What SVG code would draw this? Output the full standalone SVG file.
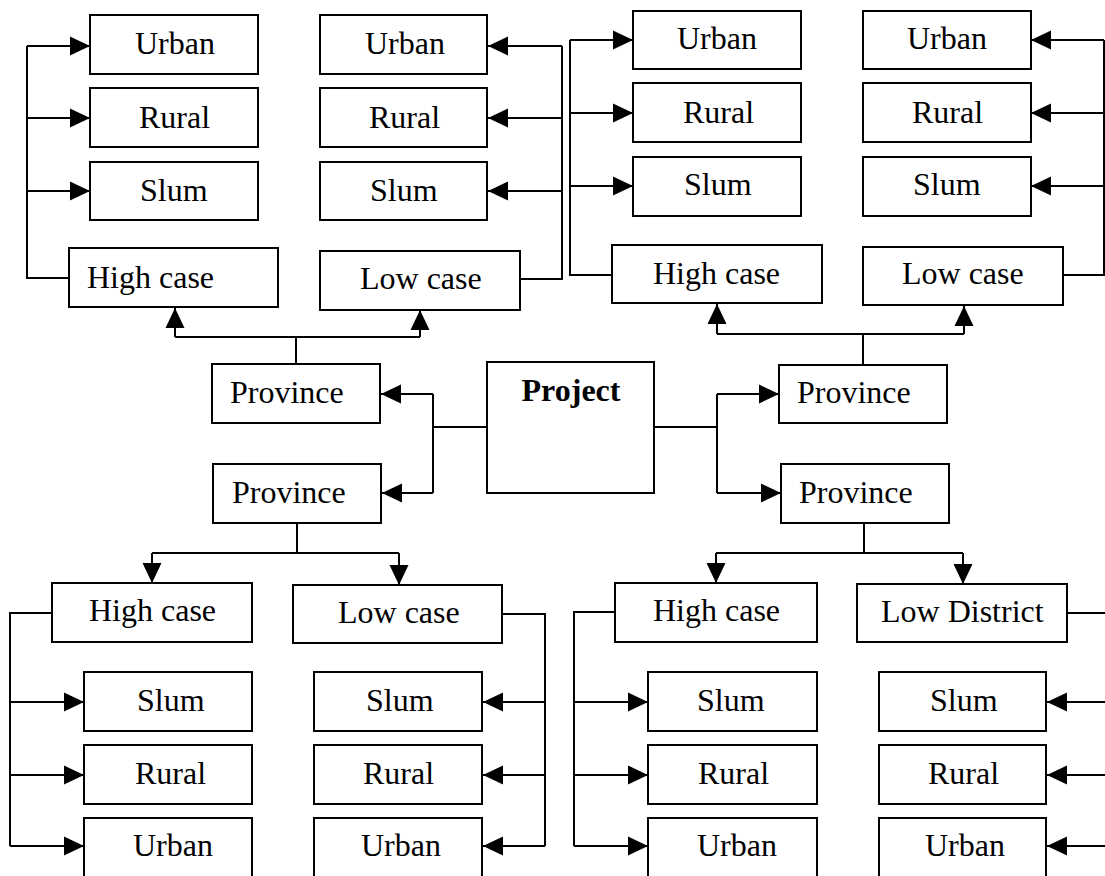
<svg xmlns="http://www.w3.org/2000/svg" width="1105" height="876" viewBox="0 0 1105 876">
<style>
.box{fill:#fff;stroke:#000;stroke-width:2}
.lbl{font-family:"Liberation Serif","Times New Roman",serif;font-size:32px;fill:#000}
.bold{font-weight:bold}
.ln{fill:none;stroke:#000;stroke-width:2}
.arr{fill:none;stroke:#000;stroke-width:2;marker-end:url(#ah)}
</style>
<defs>
<marker id="ah" markerUnits="userSpaceOnUse" markerWidth="20" markerHeight="20" viewBox="0 0 20 20" refX="20" refY="10" orient="auto">
<path d="M0,0.5 L20,10 L0,19.5 z" fill="#000"/>
</marker>
</defs>
<rect width="1105" height="876" fill="#fff"/>
<g id="connectors">
<!-- top-left group -->
<path class="ln" d="M69,278 H27 V46"/>
<path class="arr" d="M27,46 H90"/>
<path class="arr" d="M27,118 H90"/>
<path class="arr" d="M27,191 H90"/>
<!-- top second group -->
<path class="ln" d="M520,279 H562 V46"/>
<path class="arr" d="M562,46 H488"/>
<path class="arr" d="M562,118 H488"/>
<path class="arr" d="M562,191 H488"/>
<!-- top third group -->
<path class="ln" d="M612,275 H570 V40"/>
<path class="arr" d="M570,40 H633"/>
<path class="arr" d="M570,113 H633"/>
<path class="arr" d="M570,186 H633"/>
<!-- top fourth group -->
<path class="ln" d="M1063,275 H1104 V40"/>
<path class="arr" d="M1104,40 H1031"/>
<path class="arr" d="M1104,113 H1031"/>
<path class="arr" d="M1104,186 H1031"/>
<!-- province L1 up -->
<path class="ln" d="M296,364 V337 H175"/>
<path class="arr" d="M175,337 V308"/>
<path class="ln" d="M296,337 H420"/>
<path class="arr" d="M420,337 V310"/>
<!-- province R1 up -->
<path class="ln" d="M863,365 V334 H717"/>
<path class="arr" d="M717,334 V304"/>
<path class="ln" d="M863,334 H964"/>
<path class="arr" d="M964,334 V306"/>
<!-- project to provinces -->
<path class="ln" d="M487,427 H433 V394"/>
<path class="arr" d="M433,394 H381"/>
<path class="ln" d="M433,427 V493"/>
<path class="arr" d="M433,493 H382"/>
<path class="ln" d="M654,427 H717 V394"/>
<path class="arr" d="M717,394 H779"/>
<path class="ln" d="M717,427 V493"/>
<path class="arr" d="M717,493 H781"/>
<!-- province L2 down -->
<path class="ln" d="M297,523 V553 H152"/>
<path class="arr" d="M152,553 V583"/>
<path class="ln" d="M297,553 H399"/>
<path class="arr" d="M399,553 V585"/>
<!-- province R2 down -->
<path class="ln" d="M864,523 V553 H716"/>
<path class="arr" d="M716,553 V583"/>
<path class="ln" d="M864,553 H963"/>
<path class="arr" d="M963,553 V584"/>
<!-- bottom-left group -->
<path class="ln" d="M52,613 H10 V846"/>
<path class="arr" d="M10,702 H84"/>
<path class="arr" d="M10,775 H84"/>
<path class="arr" d="M10,846 H84"/>
<!-- bottom second group -->
<path class="ln" d="M502,614 H545 V846"/>
<path class="arr" d="M545,702 H483"/>
<path class="arr" d="M545,775 H483"/>
<path class="arr" d="M545,846 H483"/>
<!-- bottom third group -->
<path class="ln" d="M615,612 H574 V846"/>
<path class="arr" d="M574,702 H648"/>
<path class="arr" d="M574,775 H648"/>
<path class="arr" d="M574,846 H648"/>
<!-- bottom fourth group -->
<path class="ln" d="M1067,613 H1108 V846"/>
<path class="arr" d="M1108,702 H1047"/>
<path class="arr" d="M1108,775 H1047"/>
<path class="arr" d="M1108,846 H1047"/>
</g>
<!-- top-left -->
<g id="tl-urban"><rect class="box" x="90" y="15" width="168" height="59"/><text class="lbl" x="135" y="54">Urban</text></g>
<g id="tl-rural"><rect class="box" x="90" y="88" width="168" height="59"/><text class="lbl" x="139" y="128">Rural</text></g>
<g id="tl-slum"><rect class="box" x="90" y="162" width="168" height="58"/><text class="lbl" x="140" y="201">Slum</text></g>
<g id="tl-high"><rect class="box" x="69" y="248" width="209" height="59"/><text class="lbl" x="87" y="288">High case</text></g>
<!-- top second -->
<g id="tl2-urban"><rect class="box" x="320" y="15" width="167" height="59"/><text class="lbl" x="365" y="54">Urban</text></g>
<g id="tl2-rural"><rect class="box" x="320" y="88" width="167" height="59"/><text class="lbl" x="369" y="128">Rural</text></g>
<g id="tl2-slum"><rect class="box" x="320" y="162" width="167" height="58"/><text class="lbl" x="370" y="201">Slum</text></g>
<g id="tl2-low"><rect class="box" x="320" y="251" width="200" height="59"/><text class="lbl" x="360" y="289">Low case</text></g>
<!-- top third -->
<g id="tr-urban"><rect class="box" x="633" y="11" width="168" height="58"/><text class="lbl" x="677" y="49">Urban</text></g>
<g id="tr-rural"><rect class="box" x="633" y="83" width="168" height="59"/><text class="lbl" x="683" y="123">Rural</text></g>
<g id="tr-slum"><rect class="box" x="633" y="157" width="168" height="59"/><text class="lbl" x="684" y="195">Slum</text></g>
<g id="tr-high"><rect class="box" x="612" y="245" width="210" height="58"/><text class="lbl" x="653" y="284">High case</text></g>
<!-- top fourth -->
<g id="tr2-urban"><rect class="box" x="863" y="11" width="168" height="58"/><text class="lbl" x="907" y="49">Urban</text></g>
<g id="tr2-rural"><rect class="box" x="863" y="83" width="168" height="59"/><text class="lbl" x="912" y="123">Rural</text></g>
<g id="tr2-slum"><rect class="box" x="863" y="157" width="168" height="59"/><text class="lbl" x="913" y="195">Slum</text></g>
<g id="tr2-low"><rect class="box" x="863" y="247" width="200" height="58"/><text class="lbl" x="902" y="284">Low case</text></g>
<!-- middle -->
<g id="prov-l1"><rect class="box" x="212" y="364" width="168" height="59"/><text class="lbl" x="230" y="403">Province</text></g>
<g id="prov-l2"><rect class="box" x="213" y="464" width="168" height="59"/><text class="lbl" x="232" y="503">Province</text></g>
<g id="project"><rect class="box" x="487" y="362" width="167" height="131"/><text class="lbl bold" x="571" y="401" text-anchor="middle">Project</text></g>
<g id="prov-r1"><rect class="box" x="779" y="365" width="168" height="58"/><text class="lbl" x="797" y="403">Province</text></g>
<g id="prov-r2"><rect class="box" x="781" y="464" width="168" height="59"/><text class="lbl" x="799" y="503">Province</text></g>
<!-- bottom-left -->
<g id="bl-high"><rect class="box" x="52" y="583" width="200" height="59"/><text class="lbl" x="89" y="621">High case</text></g>
<g id="bl-slum"><rect class="box" x="84" y="672" width="168" height="59"/><text class="lbl" x="137" y="711">Slum</text></g>
<g id="bl-rural"><rect class="box" x="84" y="745" width="168" height="59"/><text class="lbl" x="135" y="784">Rural</text></g>
<g id="bl-urban"><rect class="box" x="84" y="818" width="168" height="60"/><text class="lbl" x="133" y="856">Urban</text></g>
<!-- bottom second -->
<g id="bl2-low"><rect class="box" x="293" y="585" width="209" height="58"/><text class="lbl" x="338" y="623">Low case</text></g>
<g id="bl2-slum"><rect class="box" x="314" y="672" width="168" height="59"/><text class="lbl" x="366" y="711">Slum</text></g>
<g id="bl2-rural"><rect class="box" x="314" y="745" width="168" height="59"/><text class="lbl" x="363" y="784">Rural</text></g>
<g id="bl2-urban"><rect class="box" x="314" y="818" width="168" height="60"/><text class="lbl" x="361" y="856">Urban</text></g>
<!-- bottom third -->
<g id="br-high"><rect class="box" x="615" y="583" width="202" height="59"/><text class="lbl" x="653" y="621">High case</text></g>
<g id="br-slum"><rect class="box" x="648" y="672" width="169" height="59"/><text class="lbl" x="697" y="711">Slum</text></g>
<g id="br-rural"><rect class="box" x="648" y="745" width="169" height="59"/><text class="lbl" x="698" y="784">Rural</text></g>
<g id="br-urban"><rect class="box" x="648" y="818" width="169" height="60"/><text class="lbl" x="697" y="856">Urban</text></g>
<!-- bottom fourth -->
<g id="br2-low"><rect class="box" x="857" y="584" width="210" height="58"/><text class="lbl" x="881" y="622">Low District</text></g>
<g id="br2-slum"><rect class="box" x="879" y="672" width="167" height="59"/><text class="lbl" x="930" y="711">Slum</text></g>
<g id="br2-rural"><rect class="box" x="879" y="745" width="167" height="59"/><text class="lbl" x="928" y="784">Rural</text></g>
<g id="br2-urban"><rect class="box" x="879" y="818" width="167" height="60"/><text class="lbl" x="925" y="856">Urban</text></g>
</svg>
